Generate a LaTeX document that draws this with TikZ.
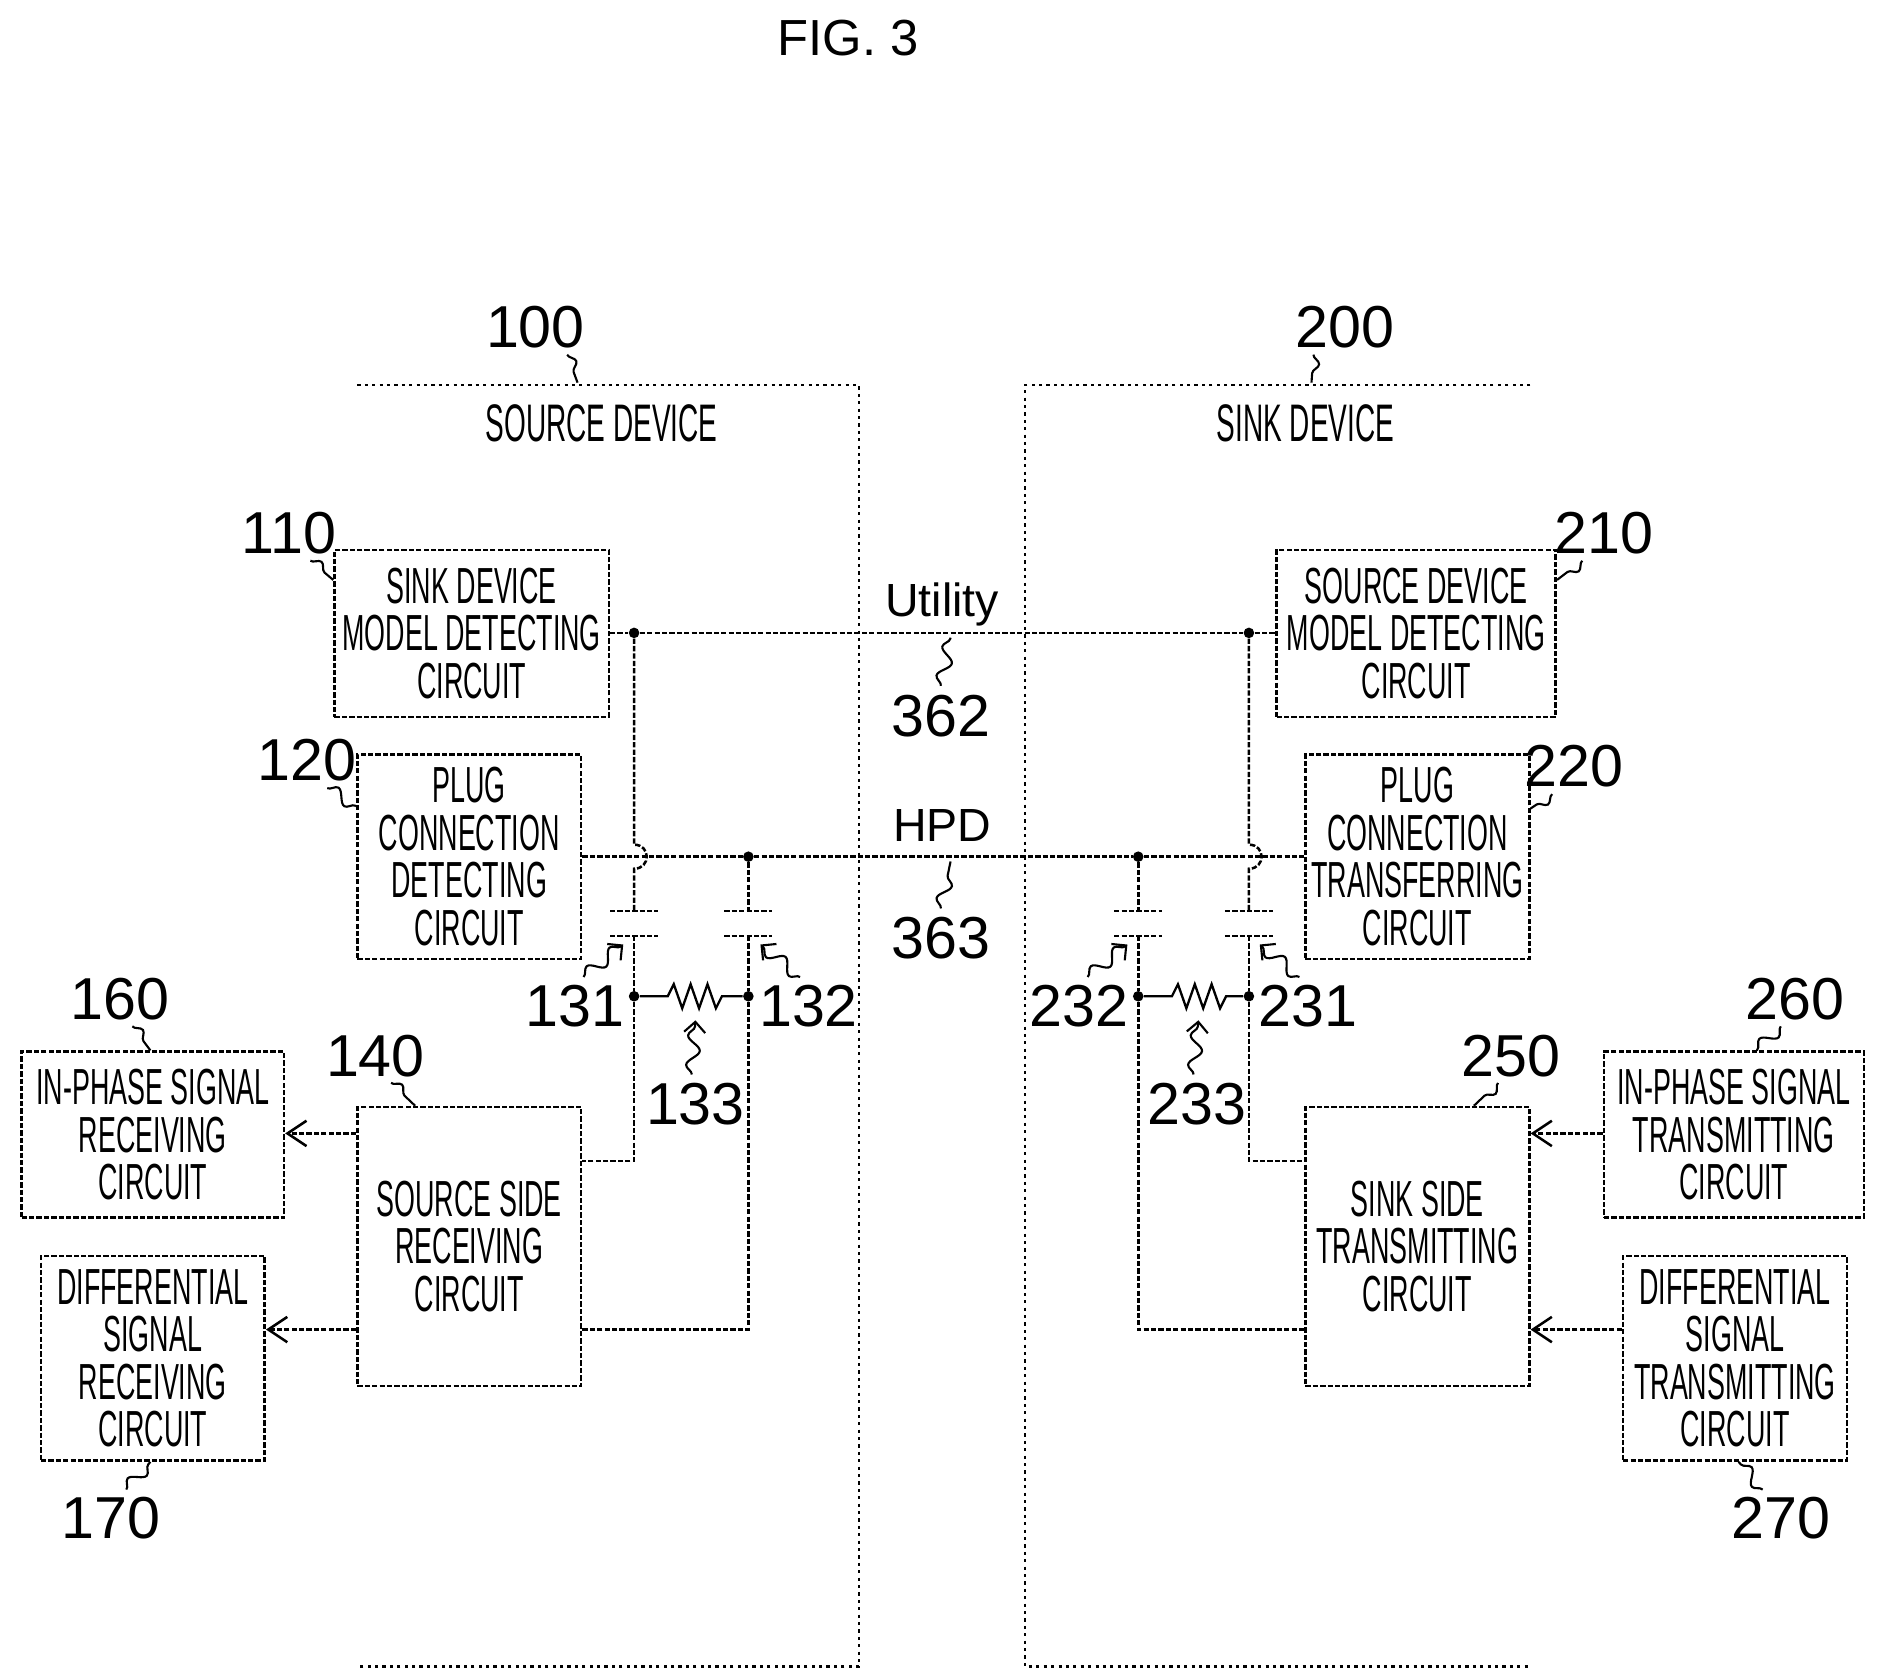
\documentclass[tikz,border=0pt]{standalone}
\usepackage{fontspec}
\setmainfont{Liberation Sans}[FakeStretch=0.53]
\newfontfamily\numfont{Liberation Sans}
\usetikzlibrary{arrows.meta,decorations.pathmorphing}
\begin{document}
\begin{tikzpicture}[x=0.02cm,y=-0.02cm,
 ln/.style={line width=1.2pt,dash pattern=on 2.5pt off 1pt},
 bx/.style={draw,ln,align=center,inner sep=0pt,font=\fontsize{24}{22.5}\selectfont},
 dev/.style={line width=1.1pt,dash pattern=on 1.5pt off 2pt},
 num/.style={font=\numfont\fontsize{28}{28}\selectfont,inner sep=0pt},
 sq/.style={line width=1pt,decorate,decoration={snake,amplitude=3pt,segment length=14pt}},
 dot/.style={circle,fill,inner sep=0pt,minimum size=5pt},
 arr/.style={ln,-{Straight Barb[length=9pt,width=12pt]}},
 lbl/.style={font=\fontsize{25}{25}\selectfont,inner sep=0pt}]
\useasboundingbox (0,0) rectangle (1560,1396);
\node[font=\numfont\fontsize{24}{24}\selectfont] (fig) at (705,32) {FIG. 3};
% device outlines
\draw[dev] (297,320) -- (714,320) -- (714,1385) -- (297,1385);
\draw[dev] (1272,320) -- (852,320) -- (852,1385) -- (1272,1385);
\node[num] (n100) at (445,272) {100};
\node[num] (n200) at (1118,272) {200};
\coordinate (c100) at (480,318); \coordinate (c200) at (1090,318);
\draw[sq] (n100.south east) ++(-15,5) -- (c100);
\draw[sq] (n200.south west) ++(15,5) -- (c200);
\node[lbl] (srcd) at (500,352) {SOURCE DEVICE};
\node[lbl] (sinkd) at (1085,352) {SINK DEVICE};
% boxes
\node[bx,minimum width=228*0.02cm,minimum height=139*0.02cm] (b110) at (392,526.5) {SINK DEVICE\\MODEL DETECTING\\CIRCUIT};
\node[bx,minimum width=186*0.02cm,minimum height=170*0.02cm] (b120) at (390,712) {PLUG\\CONNECTION\\DETECTING\\CIRCUIT};
\node[bx,minimum width=218*0.02cm,minimum height=138*0.02cm] (b160) at (127,943) {IN-PHASE SIGNAL\\RECEIVING\\CIRCUIT};
\node[bx,minimum width=186*0.02cm,minimum height=170*0.02cm] (b170) at (127,1129) {DIFFERENTIAL\\SIGNAL\\RECEIVING\\CIRCUIT};
\node[bx,minimum width=186*0.02cm,minimum height=232*0.02cm] (b140) at (390,1036) {SOURCE SIDE\\RECEIVING\\CIRCUIT};
\node[bx,minimum width=232*0.02cm,minimum height=139*0.02cm] (b210) at (1177,526.5) {SOURCE DEVICE\\MODEL DETECTING\\CIRCUIT};
\node[bx,minimum width=186*0.02cm,minimum height=170*0.02cm] (b220) at (1178,712) {PLUG\\CONNECTION\\TRANSFERRING\\CIRCUIT};
\node[bx,minimum width=186*0.02cm,minimum height=232*0.02cm] (b250) at (1178,1036) {SINK SIDE\\TRANSMITTING\\CIRCUIT};
\node[bx,minimum width=216*0.02cm,minimum height=138*0.02cm] (b260) at (1441,943) {IN-PHASE SIGNAL\\TRANSMITTING\\CIRCUIT};
\node[bx,minimum width=186*0.02cm,minimum height=170*0.02cm] (b270) at (1442,1129) {DIFFERENTIAL\\SIGNAL\\TRANSMITTING\\CIRCUIT};
% box numbers
\node[num] (n110) at (240,443) {110}; \draw[sq] (258,466) -- (b110.west|-0,482);
\node[num] (n120) at (255,632) {120}; \draw[sq] (272,655) -- (b120.west|-0,670);
\node[num] (n160) at (100,830) {160}; \draw[sq] (110,853) -- (125,873);
\node[num] (n170) at (92,1262) {170}; \draw[sq] (105,1238) -- (125,1215);
\node[num] (n140) at (312,878) {140}; \draw[sq] (325,900) -- (345,919);
\node[num] (n210) at (1333,443) {210}; \draw[sq] (1315,466) -- (b210.east|-0,482);
\node[num] (n220) at (1308,637) {220}; \draw[sq] (1290,660) -- (b220.east|-0,672);
\node[num] (n250) at (1256,878) {250}; \draw[sq] (1245,900) -- (1225,919);
\node[num] (n260) at (1492,830) {260}; \draw[sq] (1480,853) -- (1460,873);
\node[num] (n270) at (1480,1262) {270}; \draw[sq] (1465,1238) -- (1445,1215);
% junctions
\node[dot] (u1) at (527,526) {}; \node[dot] (u2) at (1038,526) {};
\node[dot] (h1) at (622,712) {}; \node[dot] (h2) at (946,712) {};
\node[dot] (r1) at (527,828) {}; \node[dot] (r2) at (622,828) {};
\node[dot] (r3) at (946,828) {}; \node[dot] (r4) at (1038,828) {};
% utility & hpd
\draw[ln] (b110.east|-u1) -- (u1) -- (u2) -- (b210.west|-u2);
\draw[ln] (b120.east|-h1) -- (h1) -- (h2) -- (b220.west|-h2);
\node[lbl,font=\numfont\fontsize{22}{22}\selectfont] (util) at (783,502) {Utility};
\node[lbl,font=\numfont\fontsize{22}{22}\selectfont] (hpd) at (783,686) {HPD};
\node[num] (n362) at (782,595) {362}; \draw[sq] (782,570) -- (790,530);
\node[num] (n363) at (782,780) {363}; \draw[sq] (782,755) -- (790,716);
% left verticals
\draw[ln] (u1) -- (527,702) .. controls (541,702) and (541,722) .. (527,722) -- (527,757);
\draw[ln] (507,757) -- (547,757); \draw[ln] (507,778) -- (547,778);
\draw[ln] (527,778) -- (r1) -- (527,965) -- (b140.east|-0,965);
\draw[ln] (h1) -- (622,757); \draw[ln] (602,757) -- (642,757); \draw[ln] (602,778) -- (642,778);
\draw[ln] (622,778) -- (r2) -- (622,1105) -- (b140.east|-0,1105);
\draw[line width=1.1pt] (r1) -- (555,828) -- (560,818) -- (567,838) -- (574,818) -- (581,838) -- (588,818) -- (595,838) -- (600,828) -- (r2);
% right verticals
\draw[ln] (u2) -- (1038,702) .. controls (1052,702) and (1052,722) .. (1038,722) -- (1038,757);
\draw[ln] (1018,757) -- (1058,757); \draw[ln] (1018,778) -- (1058,778);
\draw[ln] (1038,778) -- (r4) -- (1038,965) -- (b250.west|-0,965);
\draw[ln] (h2) -- (946,757); \draw[ln] (926,757) -- (966,757); \draw[ln] (926,778) -- (966,778);
\draw[ln] (946,778) -- (r3) -- (946,1105) -- (b250.west|-0,1105);
\draw[line width=1.1pt] (r3) -- (974,828) -- (979,818) -- (986,838) -- (993,818) -- (1000,838) -- (1007,818) -- (1014,838) -- (1019,828) -- (r4);
% component labels
\node[num] (n131) at (478,836) {131}; \draw[sq,-{Straight Barb[length=5pt]}] (485,812) -- (518,785);
\node[num] (n132) at (672,836) {132}; \draw[sq,-{Straight Barb[length=5pt]}] (665,812) -- (632,785);
\node[num] (n133) at (578,918) {133}; \draw[sq,-{Straight Barb[length=5pt]}] (575,893) -- (578,848);
\node[num] (n232) at (897,836) {232}; \draw[sq,-{Straight Barb[length=5pt]}] (904,812) -- (937,785);
\node[num] (n231) at (1087,836) {231}; \draw[sq,-{Straight Barb[length=5pt]}] (1080,812) -- (1047,785);
\node[num] (n233) at (995,918) {233}; \draw[sq,-{Straight Barb[length=5pt]}] (992,893) -- (996,848);
% arrows
\draw[arr] (b140.west|-0,942) -- (b160.east|-0,942);
\draw[arr] (b140.west|-0,1105) -- (b170.east|-0,1105);
\draw[arr] (b260.west|-0,942) -- (b250.east|-0,942);
\draw[arr] (b270.west|-0,1105) -- (b250.east|-0,1105);
\end{tikzpicture}
\end{document}
